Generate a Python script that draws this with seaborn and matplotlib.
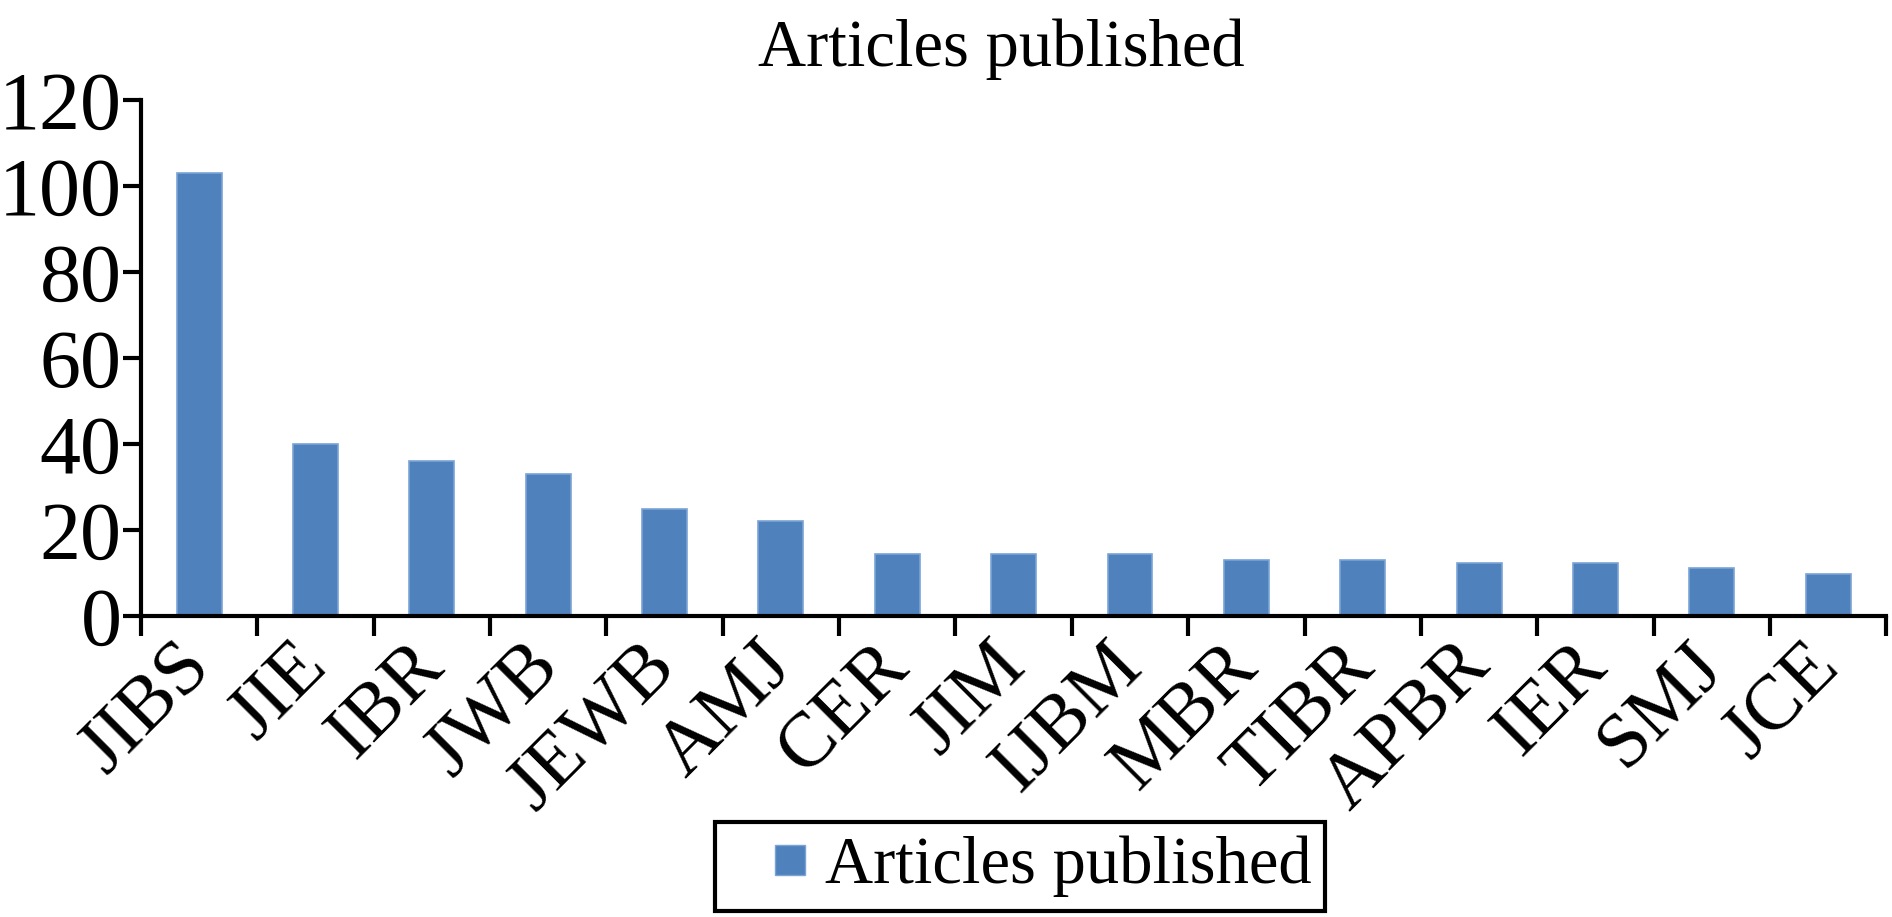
import matplotlib
matplotlib.use("Agg")
import matplotlib.pyplot as plt
from matplotlib.lines import Line2D
import seaborn as sns
import pandas as pd
import numpy as np


journals = ["JIBS", "JIE", "IBR", "JWB", "JEWB", "AMJ", "CER", "JIM",
            "IJBM", "MBR", "TIBR", "APBR", "IER", "SMJ", "JCE"]
articles = [103, 40, 36, 33, 25, 22, 14.4, 14.4, 14.4, 13, 13, 12.3, 12.3, 11.1, 9.8]
y_ticks = [0, 20, 40, 60, 80, 100, 120]

df = pd.DataFrame({"journal": journals, "articles": articles})

sns.set_style("ticks")
plt.rcParams["font.family"] = ["Liberation Serif", "DejaVu Serif"]
plt.rcParams["text.color"] = "black"
plt.rcParams["xtick.color"] = "black"
plt.rcParams["ytick.color"] = "black"

fig = plt.figure(figsize=(18.92, 9.17), dpi=100)
ax = fig.add_axes([0.0745, 0.3282, 0.9225, 0.5628])

sns.barplot(data=df, x="journal", y="articles", color="#4F81BD",
            width=0.386, saturation=1, edgecolor="#7AA3D6", linewidth=1.2,
            ax=ax)

ax.set_xlim(-0.5, len(journals) - 0.5)
ax.set_ylim(0, 120)
ax.set_yticks(y_ticks)
ax.set_xlabel("")
ax.set_ylabel("")

# category ticks sit between bars, labels under bars
ax.set_xticks(np.arange(len(journals) + 1) - 0.5, minor=True)
ax.tick_params(axis="x", which="minor", length=14.5, width=3, direction="out")
ax.tick_params(axis="x", which="major", length=0, pad=28, labelsize=56)
ax.tick_params(axis="y", length=13, width=3, direction="out", pad=1, labelsize=59)
for lab in ax.get_xticklabels():
    lab.set_rotation(45)
    lab.set_ha("right")
    lab.set_va("center")
    lab.set_rotation_mode("anchor")

sns.despine(ax=ax)
for side in ["left", "bottom"]:
    ax.spines[side].set_linewidth(3)
    ax.spines[side].set_color("black")

fig.text(0.529, 0.946, "Articles published", ha="center", va="center", fontsize=48)

handle = Line2D([0], [0], marker="s", linestyle="", markersize=22,
                markerfacecolor="#4F81BD", markeredgecolor="#7AA3D6")
leg = fig.legend([handle], ["Articles published"], loc="center",
                 bbox_to_anchor=(0.539, 0.055), fontsize=48,
                 frameon=True, fancybox=False, edgecolor="black", framealpha=1,
                 handlelength=1.85, handletextpad=-0.4, borderpad=0.2)
leg.get_frame().set_linewidth(3)

fig.savefig("out.png", dpi=100, facecolor="white")
